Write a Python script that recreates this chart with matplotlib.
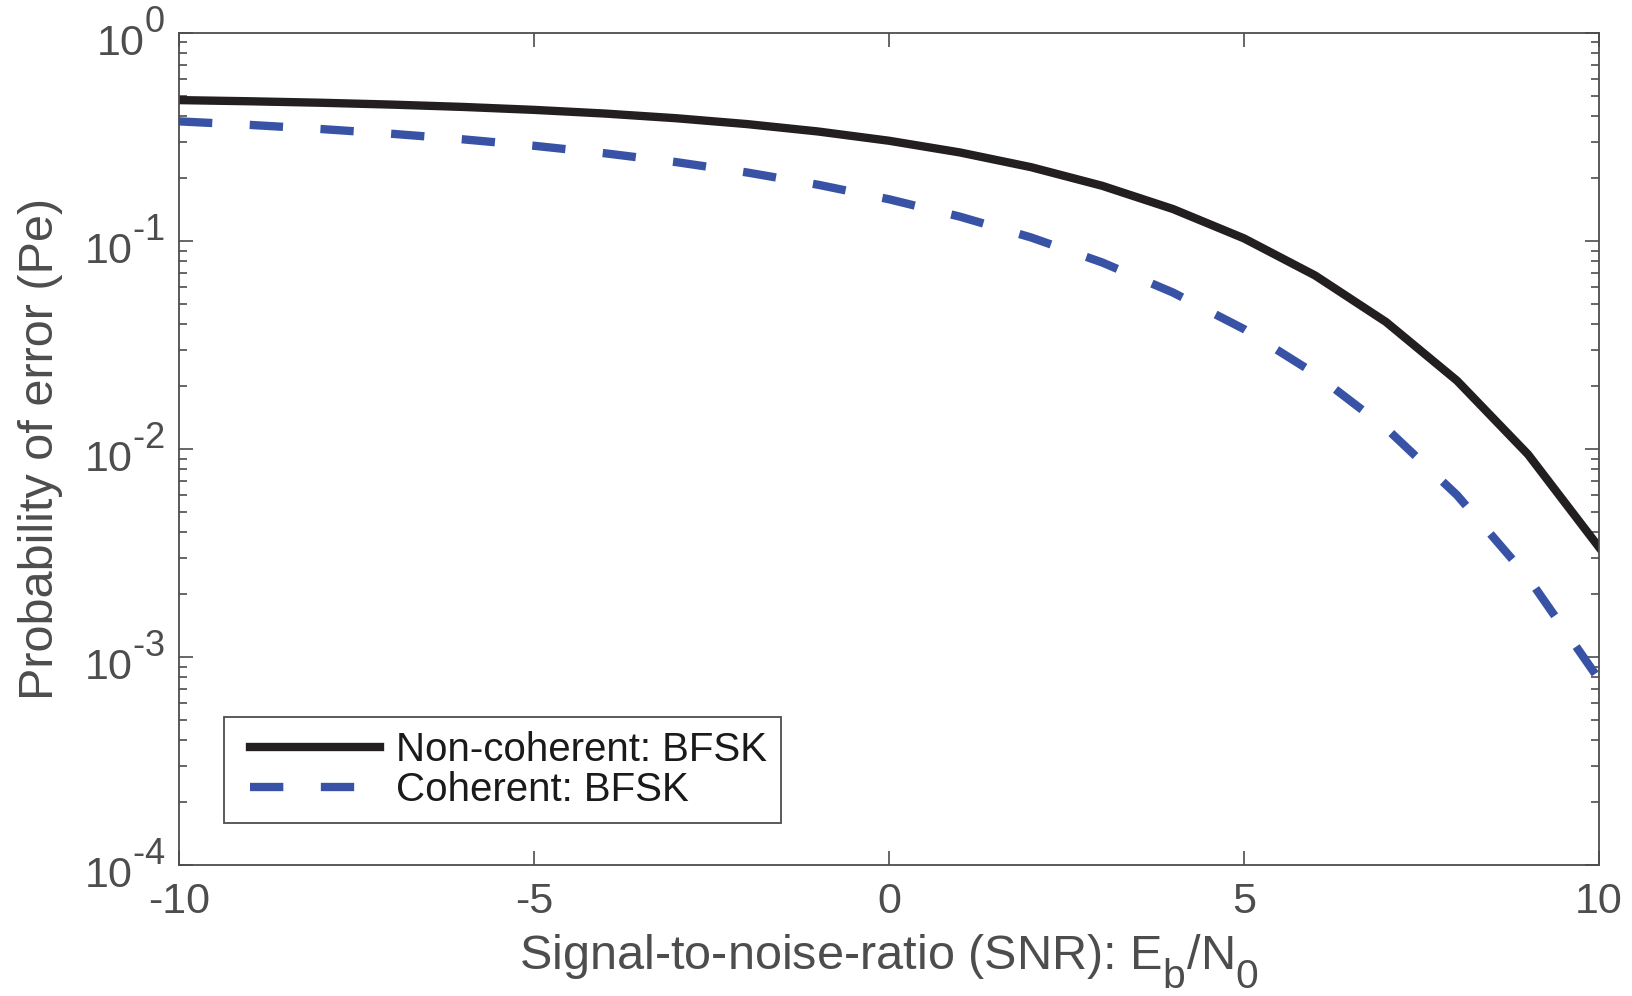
import math
import numpy as np
import matplotlib
matplotlib.use("Agg")
import matplotlib.pyplot as plt
from matplotlib.ticker import FixedLocator, LogLocator, FuncFormatter, NullFormatter
from matplotlib.legend_handler import HandlerLine2D

try:
    import matplotlib._mathtext as _mt
    _mt.SHRINK_FACTOR = 0.84
    _mt.FontConstantsBase.sub1 = 0.75
    _mt.FontConstantsBase.sup1 = 1.0
except Exception:
    pass

plt.rcParams['font.family'] = ['Liberation Sans', 'DejaVu Sans']
plt.rcParams['mathtext.fontset'] = 'custom'
plt.rcParams['mathtext.rm'] = 'Liberation Sans'
plt.rcParams['mathtext.it'] = 'Liberation Sans:italic'
plt.rcParams['mathtext.bf'] = 'Liberation Sans:bold'

# Data
snr_db = [-10, -9, -8, -7, -6, -5, -4, -3, -2, -1, 0, 1, 2, 3, 4, 5, 6, 7, 8, 9, 10]
pe_noncoherent = [0.4756, 0.4695, 0.4619, 0.4525, 0.4410, 0.4269, 0.4098, 0.3892,
                  0.3647, 0.3361, 0.3033, 0.2664, 0.2264, 0.1843, 0.1424, 0.1029,
                  0.0683, 0.0408, 0.0213, 0.00942, 0.00337]
pe_coherent = [0.3759, 0.3614, 0.3453, 0.3276, 0.3081, 0.2869, 0.2640, 0.2395,
               0.2135, 0.1864, 0.1587, 0.1309, 0.1040, 0.0789, 0.0565, 0.0377,
               0.0230, 0.0126, 0.0060, 0.00241, 0.00078]
series_labels = ['Non-coherent: BFSK', 'Coherent: BFSK']
x_ticks = [-10, -5, 0, 5, 10]
y_ticks = [1e-4, 1e-3, 1e-2, 1e-1, 1e0]


def ylabel_fmt(v, p):
    e = round(math.log10(v))
    if e < 0:
        return r'$\mathregular{10^{\text{-}%d}}$' % (-e)
    return r'$\mathregular{10^{%d}}$' % e


class ShiftedLineHandler(HandlerLine2D):
    def __init__(self, shift=0.3, **kw):
        super().__init__(**kw)
        self._shift = shift

    def create_artists(self, legend, orig_handle, xdescent, ydescent,
                       width, height, fontsize, trans):
        arts = super().create_artists(legend, orig_handle, xdescent, ydescent,
                                      width, height, fontsize, trans)
        for a in arts:
            a.set_xdata(np.asarray(a.get_xdata(), dtype=float) + self._shift * fontsize)
        return arts


axis_gray = '#4d4d4d'
fig = plt.figure(figsize=(16.33, 9.96), dpi=100)
ax = fig.add_axes([0.1096, 0.1315, 0.9792 - 0.1096, 0.9669 - 0.1315])

ax.plot(snr_db, pe_noncoherent, color='#231f20', lw=6, solid_joinstyle='miter',
        label=series_labels[0])
ax.plot(snr_db, pe_coherent, color='#3853a5', lw=6, dashes=(4, 4.5),
        dash_capstyle='butt', label=series_labels[1])

ax.set_yscale('log')
ax.set_xlim(-10, 10)
ax.set_ylim(1e-4, 1)
ax.xaxis.set_major_locator(FixedLocator(x_ticks))
ax.set_xticklabels([str(v) for v in x_ticks])
ax.yaxis.set_major_locator(FixedLocator(y_ticks))
ax.yaxis.set_minor_locator(LogLocator(base=10, subs=range(2, 10), numticks=20))
ax.yaxis.set_minor_formatter(NullFormatter())
ax.yaxis.set_major_formatter(FuncFormatter(ylabel_fmt))

for s in ax.spines.values():
    s.set_color(axis_gray)
    s.set_linewidth(1.3)
ax.tick_params(which='both', direction='in', top=True, right=True,
               color=axis_gray, width=1.2, labelcolor=axis_gray, labelsize=31)
ax.tick_params(which='major', length=10)
ax.tick_params(which='minor', length=5.5)
ax.tick_params(axis='x', pad=12)
ax.tick_params(axis='y', pad=10)

ax.set_xlabel(r'Signal-to-noise-ratio (SNR): E$_\mathregular{b}$/N$_\mathregular{0}$',
              fontsize=35, color=axis_gray, labelpad=8)
ax.set_ylabel('Probability of error (Pe)', fontsize=35, color=axis_gray, labelpad=15)

hm = {h: ShiftedLineHandler(shift=0.3) for h in ax.get_lines()}
leg = ax.legend(loc='upper left', bbox_to_anchor=(224 / 1633, 1 - 717 / 996),
                bbox_transform=fig.transFigure, fontsize=29, frameon=True,
                fancybox=False, handlelength=3.23, handletextpad=0.7,
                labelspacing=0.05, borderpad=0.35, borderaxespad=0,
                handler_map=hm)
frame = leg.get_frame()
frame.set_edgecolor(axis_gray)
frame.set_linewidth(1.3)
frame.set_alpha(1)
for t in leg.get_texts():
    t.set_color('#1a1a1a')

fig.savefig('out.png', dpi=100)
